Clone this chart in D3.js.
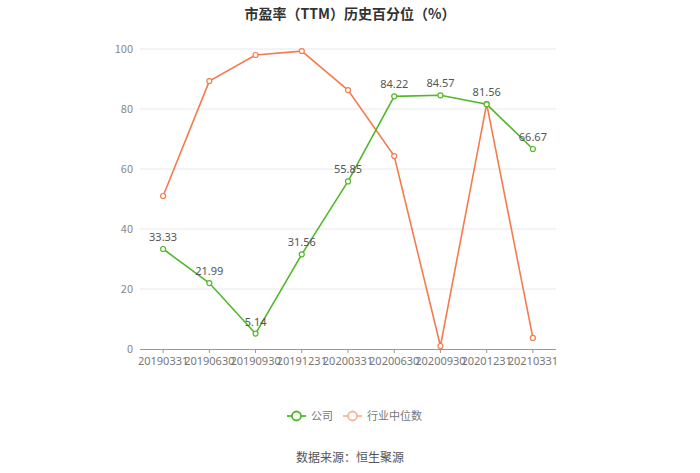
<!DOCTYPE html>
<html>
<head>
<meta charset="utf-8">
<script src="https://cdn.jsdelivr.net/npm/d3@7/dist/d3.min.js"></script>
<style>
body { margin: 0; background: #fff; }
svg { font-family: "Microsoft YaHei", "Noto Sans CJK SC", sans-serif; }
</style>
</head>
<body>
<div class="card"></div>
<script>
const dates = ['20190331', '20190630', '20190930', '20191231', '20200331', '20200630', '20200930', '20201231', '20210331'];
const company = [33.33, 21.99, 5.14, 31.56, 55.85, 84.22, 84.57, 81.56, 66.67];
const industry = [51, 89.3, 98, 99.3, 86.3, 64.3, 1, 81.7, 3.7];
const yTicks = [0, 20, 40, 60, 80, 100];

const w = 700, h = 473;
const green = '#52b82a', orange = '#f47b4c';

var svg = d3.select('.card').append('svg')
	.attr('width', w).attr('height', h);

svg.append('text')
	.attr('x', 350).attr('y', 19)
	.attr('text-anchor', 'middle')
	.attr('font-size', 14).attr('font-weight', 'bold')
	.attr('fill', '#333')
	.text('市盈率（TTM）历史百分位（%）');

var xScale = d3.scaleBand().domain(dates).range([140, 556]);
var yScale = d3.scaleLinear().domain([0, 100]).range([349, 49]);
var cx = d => xScale(d) + xScale.bandwidth() / 2;

// grid
svg.append('g').selectAll('line')
	.data(yTicks.filter(t => t > 0))
	.enter().append('line')
	.attr('x1', 140).attr('x2', 556)
	.attr('y1', d => yScale(d)).attr('y2', d => yScale(d))
	.attr('stroke', '#e8e8ec');

// y labels
svg.append('g').selectAll('text')
	.data(yTicks)
	.enter().append('text')
	.attr('x', 133).attr('y', d => yScale(d) + 4)
	.attr('text-anchor', 'end')
	.attr('font-size', 11).attr('fill', '#888')
	.text(d => d);

// x axis
var xAxis = d3.axisBottom(xScale).tickSize(4).tickPadding(4);
var gx = svg.append('g')
	.attr('transform', 'translate(0,349)')
	.call(xAxis);
gx.select('.domain').attr('stroke', '#999').attr('d', 'M140,0.5H556');
gx.selectAll('.tick line').attr('stroke', '#999');
gx.selectAll('.tick text').attr('font-size', 11).attr('fill', '#777')
	.attr('font-family', '"Microsoft YaHei", "Noto Sans", sans-serif');

function drawSeries(vals, color) {
	var line = d3.line().x((d, i) => cx(dates[i])).y(d => yScale(d));
	svg.append('path').datum(vals)
		.attr('d', line)
		.attr('fill', 'none').attr('stroke', color).attr('stroke-width', 1.6);
	svg.append('g').selectAll('circle')
		.data(vals)
		.enter().append('circle')
		.attr('cx', (d, i) => cx(dates[i])).attr('cy', d => yScale(d))
		.attr('r', 2.5)
		.attr('fill', '#fff').attr('stroke', color).attr('stroke-width', 1.2);
}

drawSeries(industry, orange);
drawSeries(company, green);

svg.append('g').selectAll('text')
	.data(company)
	.enter().append('text')
	.attr('x', (d, i) => cx(dates[i])).attr('y', d => yScale(d) - 8)
	.attr('text-anchor', 'middle')
	.attr('font-size', 11).attr('fill', '#555')
	.attr('font-family', '"Microsoft YaHei", "Noto Sans", sans-serif')
	.text(d => d.toFixed(2));

// legend
var legend = [
	{ name: '公司', color: green, x: 287 },
	{ name: '行业中位数', color: '#f8b49a', x: 343 }
];
var lg = svg.append('g').selectAll('g').data(legend).enter().append('g');
lg.append('line')
	.attr('x1', d => d.x).attr('x2', d => d.x + 19)
	.attr('y1', 416).attr('y2', 416)
	.attr('stroke', d => d.color).attr('stroke-width', 1.8);
lg.append('circle')
	.attr('cx', d => d.x + 9.5).attr('cy', 416).attr('r', 4.5)
	.attr('fill', '#fff').attr('stroke', d => d.color).attr('stroke-width', 1.8);
lg.append('text')
	.attr('x', d => d.x + 24).attr('y', 420)
	.attr('font-size', 11).attr('fill', '#777')
	.text(d => d.name);

svg.append('text')
	.attr('x', 350).attr('y', 462)
	.attr('text-anchor', 'middle')
	.attr('font-size', 12).attr('fill', '#555')
	.text('数据来源：恒生聚源');
</script>
</body>
</html>
